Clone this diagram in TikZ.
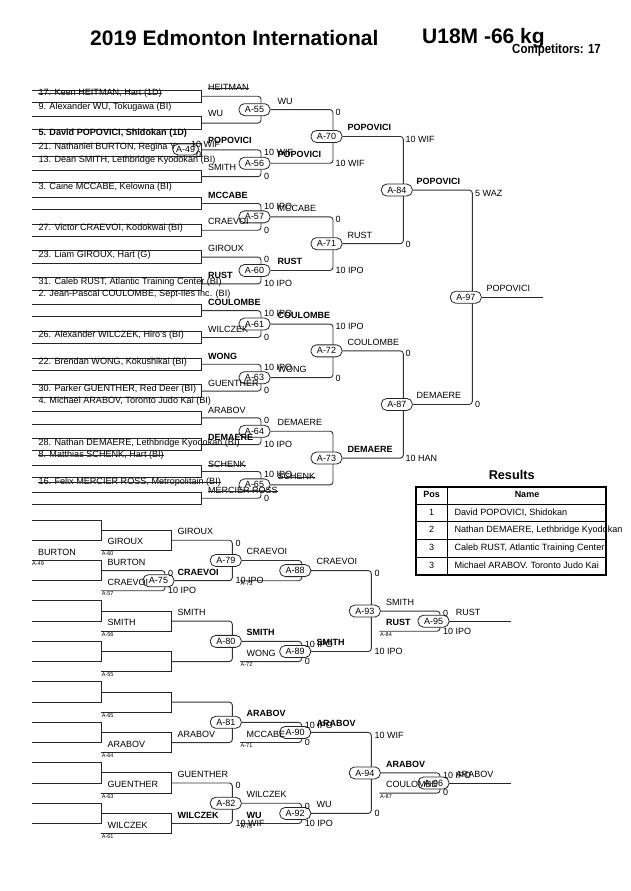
\documentclass[tikz,border=0pt]{standalone}
\usepackage{fontspec}
\setmainfont{Liberation Sans}
\usetikzlibrary{backgrounds}
\newcounter{lbc}
\newcommand\lb[4][lbl]{\stepcounter{lbc}\node[#1] (t\arabic{lbc}) at (#2,#3) {#4};}
\newcommand\slb[4][lbl]{\stepcounter{lbc}\node[#1] (t\arabic{lbc}) at (#2,#3) {#4};\draw[strk] (t\arabic{lbc}.west) -- (t\arabic{lbc}.east);}
\begin{document}
\begin{tikzpicture}[x=1pt,y=-1pt,
  ln/.style={line width=0.9pt, draw=black!85},
  conn/.style={line width=0.9pt, draw=black!80, rounded corners=3pt},
  strk/.style={line width=0.7pt, draw=black!85},
  ov/.style={draw=black!85, line width=0.8pt, fill=white, rounded corners=5.5pt, minimum width=31pt, minimum height=12pt, inner sep=0pt, font=\fontsize{9}{9}\selectfont},
  lbl/.style={anchor=west, inner sep=0pt, text height=6.5pt, text depth=1.8pt, font=\fontsize{9}{10}\selectfont},
  blbl/.style={lbl, font=\fontsize{9}{10}\selectfont\bfseries},
  ent/.style={lbl, font=\fontsize{9.1}{10}\selectfont},
  bent/.style={lbl, font=\fontsize{9.1}{10}\selectfont\bfseries},
  tny/.style={anchor=west, inner sep=0pt, font=\fontsize{5.5}{6}\selectfont},
  ctr/.style={inner sep=0pt, text height=6.5pt, text depth=1.8pt, font=\fontsize{9}{10}\selectfont},
]
\path[use as bounding box] (0,0) rectangle (630,891);

% ---------- ovals (main bracket) ----------
\node[ov] (A55) at (254.5,109.65) {A-55};
\node[ov] (A56) at (254.5,163.25) {A-56};
\node[ov] (A57) at (254.5,216.85) {A-57};
\node[ov] (A60) at (254.5,270.45) {A-60};
\node[ov] (A61) at (254.5,324.05) {A-61};
\node[ov] (A63) at (254.5,377.65) {A-63};
\node[ov] (A64) at (254.5,431.25) {A-64};
\node[ov] (A65) at (254.5,484.85) {A-65};
\node[ov] (A70) at (326.5,136.45) {A-70};
\node[ov] (A71) at (326.5,243.65) {A-71};
\node[ov] (A72) at (326.5,350.85) {A-72};
\node[ov] (A73) at (326.5,458.05) {A-73};
\node[ov] (A84) at (396.8,190.05) {A-84};
\node[ov] (A87) at (396.8,404.45) {A-87};
\node[ov] (A97) at (465.8,297.25) {A-97};
\coordinate (fin) at (542.7,297.25);

% ---------- ovals (repechage) ----------
\node[ov] (A75) at (158.5,580.67) {A-75};
\node[ov] (A79) at (225.8,560.45) {A-79};
\node[ov] (A80) at (225.8,641.38) {A-80};
\node[ov] (A81) at (225.8,722.3) {A-81};
\node[ov] (A82) at (225.8,803.26) {A-82};
\node[ov] (A88) at (295.2,570.6) {A-88};
\node[ov] (A89) at (295.2,651.5) {A-89};
\node[ov] (A90) at (295.2,732.4) {A-90};
\node[ov] (A92) at (295.2,813.4) {A-92};
\node[ov] (A93) at (364.8,611.05) {A-93};
\node[ov] (A94) at (364.8,772.9) {A-94};
\node[ov] (A95) at (433.5,621.15) {A-95};
\node[ov] (A96) at (433.5,783) {A-96};
\coordinate (e88) at (240,580.7);
\coordinate (e89) at (240,661.6);
\coordinate (e90) at (240,742.5);
\coordinate (e92) at (240,823.5);
\coordinate (e95) at (379.3,631.25);
\coordinate (e96) at (379.3,793.1);
\coordinate (o95) at (510.7,621.15);
\coordinate (o96) at (510.7,783);

\begin{scope}[on background layer]
\fill[white] (0,0) rectangle (630,891);
% main first-round boxes
\foreach \k in {0,...,15}{
  \pgfmathsetmacro\t{90+\k*26.8}
  \draw[ln] (31.7,\t) -- (201.7,\t) -- (201.7,\t+12.5) -- (31.7,\t+12.5);
}
% round-2 junctions
\foreach \j in {0,...,7}{
  \pgfmathsetmacro\ya{96.25+\j*53.6}
  \draw[conn] (201.7,\ya) -- (261,\ya) -- (261,\ya+26.8) -- (201.7,\ya+26.8);
}
\draw[conn] (A55.east) -| (333,136.45) |- (A56.east);
\draw[conn] (A57.east) -| (333,243.65) |- (A60.east);
\draw[conn] (A61.east) -| (333,350.85) |- (A63.east);
\draw[conn] (A64.east) -| (333,458.05) |- (A65.east);
\draw[conn] (A70.east) -| (403.3,190.05) |- (A71.east);
\draw[conn] (A72.east) -| (403.3,404.45) |- (A73.east);
\draw[conn] (A84.east) -| (472.3,297.25) |- (A87.east);
\draw[ln] (A97.east) -- (fin);

% repechage level-1 boxes
\foreach \i in {0,...,7}{
  \pgfmathsetmacro\t{520+\i*40.47}
  \draw[ln] (31.7,\t) -- (101,\t) -- (101,\t+20.2) -- (31.7,\t+20.2);
}
\foreach \i in {0,2,3,4,5,6,7}{
  \pgfmathsetmacro\t{520+\i*40.47}
  \draw[ln] (101,\t+10.1) -- (171.7,\t+10.1) -- (171.7,\t+30.3) -- (101,\t+30.3);
}
\draw[conn] (101,570.57) -- (165,570.57) -- (165,590.77) -- (101,590.77);
\draw[conn] (171.7,540.2) -| (232.3,560.45) |- (A75.east);
\draw[conn] (171.7,621.14) -- (232.3,621.14) -- (232.3,661.61) -- (171.7,661.61);
\draw[conn] (171.7,702.08) -- (232.3,702.08) -- (232.3,742.55) -- (171.7,742.55);
\draw[conn] (171.7,783.02) -- (232.3,783.02) -- (232.3,823.49) -- (171.7,823.49);
\draw[conn] (A79.east) -| (301.7,570.6) |- (e88);
\draw[conn] (A80.east) -| (301.7,651.5) |- (e89);
\draw[conn] (A81.east) -| (301.7,732.4) |- (e90);
\draw[conn] (A82.east) -| (301.7,813.4) |- (e92);
\draw[conn] (A88.east) -| (371.3,611.05) |- (A89.east);
\draw[conn] (A90.east) -| (371.3,772.9) |- (A92.east);
\draw[conn] (A93.east) -| (440,621.15) |- (e95);
\draw[conn] (A94.east) -| (440,783) |- (e96);
\draw[ln] (A95.east) -- (o95);
\draw[ln] (A96.east) -- (o96);
\end{scope}

% A-49 preliminary
\node[ov, minimum width=26pt, minimum height=11pt] (A49) at (185.7,149.5) {A-49};

% ---------- title ----------
\node[anchor=west, inner sep=0pt, font=\fontsize{21}{21}\selectfont\bfseries] (title) at (90,38) {2019 Edmonton International};
\node[anchor=west, inner sep=0pt, font=\fontsize{21}{21}\selectfont\bfseries] (cat) at (422,38) {U18M -66 kg};
\node[anchor=west, inner sep=0pt, font=\fontsize{11.5}{12}\selectfont\bfseries] (comp) at (512,50) {\scalebox{1}[1.15]{Competitors: 17}};

% ---------- entrants ----------
\slb[ent]{38.3}{93}{17. Keen HEITMAN, Hart (1D)}
\lb[ent]{38.3}{106.8}{9. Alexander WU, Tokugawa (BI)}
\lb[bent]{38.3}{133.4}{5. David POPOVICI, Shidokan (1D)}
\lb[ent]{38.3}{147.3}{21. Nathaniel BURTON, Regina Y}
\lb[ent]{38.3}{160.4}{13. Dean SMITH, Lethbridge Kyodokan (BI)}
\lb[ent]{38.3}{187.2}{3. Caine MCCABE, Kelowna (BI)}
\lb[ent]{38.3}{228.2}{27. Victor CRAEVOI, Kodokwai (BI)}
\lb[ent]{38.3}{255.1}{23. Liam GIROUX, Hart (G)}
\lb[ent]{38.3}{281.9}{31. Caleb RUST, Atlantic Training Center (BI)}
\lb[ent]{38.3}{294.4}{2. Jean-Pascal COULOMBE, Sept-Iles Inc. (BI)}
\lb[ent]{38.3}{335.5}{26. Alexander WILCZEK, Hiro's (BI)}
\lb[ent]{38.3}{362.3}{22. Brendan WONG, Kokushikai (BI)}
\lb[ent]{38.3}{389.1}{30. Parker GUENTHER, Red Deer (BI)}
\lb[ent]{38.3}{401.6}{4. Michael ARABOV, Toronto Judo Kai (BI)}
\lb[ent]{38.3}{442.7}{28. Nathan DEMAERE, Lethbridge Kyodokan (BI)}
\slb[ent]{38.3}{455.2}{8. Matthias SCHENK, Hart (BI)}
\slb[ent]{38.3}{482}{16. Felix MERCIER ROSS, Metropolitain (BI)}

% A-49 scores
\lb{191}{145.3}{10 WIF}
\lb{196}{155.3}{0}

% round-1 winners
\slb{208}{88.3}{HEITMAN}
\lb{208}{114}{WU}
\lb[blbl]{208}{141}{POPOVICI}
\lb{208}{168}{SMITH}
\lb[blbl]{208}{196}{MCCABE}
\lb{208}{222.5}{CRAEVOI}
\lb{208}{249.4}{GIROUX}
\lb[blbl]{208}{276.2}{RUST}
\lb[blbl]{208}{303.6}{COULOMBE}
\lb{208}{329.9}{WILCZEK}
\lb[blbl]{208}{357.2}{WONG}
\lb{208}{384}{GUENTHER}
\lb{208}{411}{ARABOV}
\lb[blbl]{208}{437.8}{DEMAERE}
\slb{208}{465}{SCHENK}
\slb{208}{491.2}{MERCIER ROSS}

% round-2 winners and scores
\lb{277.5}{101.65}{WU}
\lb[blbl]{277.5}{155.25}{POPOVICI}
\lb{277.5}{208.85}{MCCABE}
\lb[blbl]{277.5}{262.45}{RUST}
\lb[blbl]{277.5}{316.05}{COULOMBE}
\lb{277.5}{369.65}{WONG}
\lb{277.5}{423.25}{DEMAERE}
\slb{277.5}{476.85}{SCHENK}
\lb{264}{153.35}{10 WIF}\lb{264}{177.15}{0}
\lb{264}{206.95}{10 IPO}\lb{264}{230.75}{0}
\lb{264}{260.55}{0}\lb{264}{284.35}{10 IPO}
\lb{264}{314.15}{10 IPO}\lb{264}{337.95}{0}
\lb{264}{367.75}{10 IPO}\lb{264}{391.55}{0}
\lb{264}{421.35}{0}\lb{264}{445.15}{10 IPO}
\lb{264}{474.95}{10 IPO}\lb{264}{498.75}{0}

% round-3
\lb{335.5}{113.15}{0}\lb{335.5}{164.25}{10 WIF}
\lb{335.5}{220.35}{0}\lb{335.5}{271.45}{10 IPO}
\lb{335.5}{327.55}{10 IPO}\lb{335.5}{378.65}{0}
\lb[blbl]{347.5}{128.45}{POPOVICI}
\lb{347.5}{235.65}{RUST}
\lb{347.5}{342.85}{COULOMBE}
\lb[blbl]{347.5}{450.05}{DEMAERE}

% round-4
\lb{405.5}{140}{10 WIF}\lb{405.5}{244.65}{0}
\lb{405.5}{354.35}{0}\lb{405.5}{459.05}{10 HAN}
\lb[blbl]{416.5}{182.05}{POPOVICI}
\lb{416.5}{396.45}{DEMAERE}

% final
\lb{475}{193.8}{5 WAZ}\lb{475}{405.45}{0}
\lb{486.5}{289.25}{POPOVICI}

% ---------- repechage labels ----------
\lb{38}{552.7}{BURTON}
\lb[tny]{32}{563.8}{A-49}
\lb{107.5}{542.5}{GIROUX}\lb[tny]{101.7}{553.6}{A-60}
\lb{107.5}{562.8}{BURTON}
\lb{107.5}{583}{CRAEVOI}\lb[tny]{101.7}{594}{A-57}
\lb{107.5}{623.4}{SMITH}\lb[tny]{101.7}{634.5}{A-56}
\lb[tny]{101.7}{675}{A-55}
\lb[tny]{101.7}{715.5}{A-65}
\lb{107.5}{744.8}{ARABOV}\lb[tny]{101.7}{756}{A-64}
\lb{107.5}{785.3}{GUENTHER}\lb[tny]{101.7}{796.4}{A-63}
\lb{107.5}{825.8}{WILCZEK}\lb[tny]{101.7}{836.9}{A-61}

\lb{177.5}{532.4}{GIROUX}
\lb[blbl]{177.5}{572.9}{CRAEVOI}
\lb{177.5}{613.3}{SMITH}
\lb{177.5}{734.7}{ARABOV}
\lb{177.5}{775.2}{GUENTHER}
\lb[blbl]{177.5}{815.7}{WILCZEK}

\lb{168}{574.1}{0}\lb{168}{591.3}{10 IPO}
\lb{235.3}{543.7}{0}\lb{235.3}{581.2}{10 IPO}
\lb{235.3}{786.5}{0}\lb{235.3}{824}{10 WIF}

\lb{246.5}{552.45}{CRAEVOI}
\lb[blbl]{246.5}{633.4}{SMITH}
\lb[blbl]{246.5}{714.3}{ARABOV}
\lb{246.5}{795.26}{WILCZEK}
\lb[tny]{240.5}{584}{A-73}
\lb{246.5}{653.8}{WONG}\lb[tny]{240.5}{664.9}{A-72}
\lb{246.5}{734.7}{MCCABE}\lb[tny]{240.5}{745.8}{A-71}
\lb[blbl]{246.5}{815.7}{WU}\lb[tny]{240.5}{826.8}{A-70}

\lb{304.7}{644.9}{10 IPO}\lb{304.7}{662.1}{0}
\lb{304.7}{725.8}{10 IPO}\lb{304.7}{743}{0}
\lb{304.7}{806.8}{0}\lb{304.7}{824}{10 IPO}
\lb{316.5}{562.6}{CRAEVOI}
\lb[blbl]{316.5}{643.5}{SMITH}
\lb[blbl]{316.5}{724.4}{ARABOV}
\lb{316.5}{805.4}{WU}

\lb{374.3}{574.1}{0}\lb{374.3}{652}{10 IPO}
\lb{374.3}{735.9}{10 WIF}\lb{374.3}{813.9}{0}
\lb{386}{603}{SMITH}
\lb[blbl]{386}{764.9}{ARABOV}
\lb[blbl]{386}{623.4}{RUST}\lb[tny]{380}{634.5}{A-84}
\lb{386}{785.3}{COULOMBE}\lb[tny]{380}{796.4}{A-87}

\lb{443}{614.55}{0}\lb{443}{631.75}{10 IPO}
\lb{443}{776.4}{10 IPO}\lb{443}{793.6}{0}
\lb{455.7}{613.15}{RUST}
\lb{455.7}{775}{ARABOV}

% ---------- results ----------
\node[inner sep=0pt, font=\fontsize{12.7}{13}\selectfont\bfseries] (res) at (511.7,475) {Results};
\draw[line width=0.9pt] (447.3,487) -- (447.3,575);
\foreach \y in {504.3,521.7,539.3,557.3} \draw[line width=0.9pt] (415.7,\y) -- (606,\y);
\draw[line width=2pt] (415.7,487) rectangle (606,575);
\node[ctr, font=\fontsize{9}{10}\selectfont\bfseries] (hp) at (431.5,495.6) {Pos};
\node[ctr, font=\fontsize{9}{10}\selectfont\bfseries] (hn) at (527,495.6) {Name};
\node[ctr] (p1) at (431.5,513) {1};
\node[ctr] (p2) at (431.5,530.5) {2};
\node[ctr] (p3) at (431.5,548.3) {3};
\node[ctr] (p4) at (431.5,566.2) {3};
\lb[ent]{454.3}{513}{David POPOVICI, Shidokan}
\lb[ent]{454.3}{530.5}{Nathan DEMAERE, Lethbridge Kyodokan}
\lb[ent]{454.3}{548.3}{Caleb RUST, Atlantic Training Center}
\lb[ent]{454.3}{566.2}{Michael ARABOV. Toronto Judo Kai}
\end{tikzpicture}
\end{document}
